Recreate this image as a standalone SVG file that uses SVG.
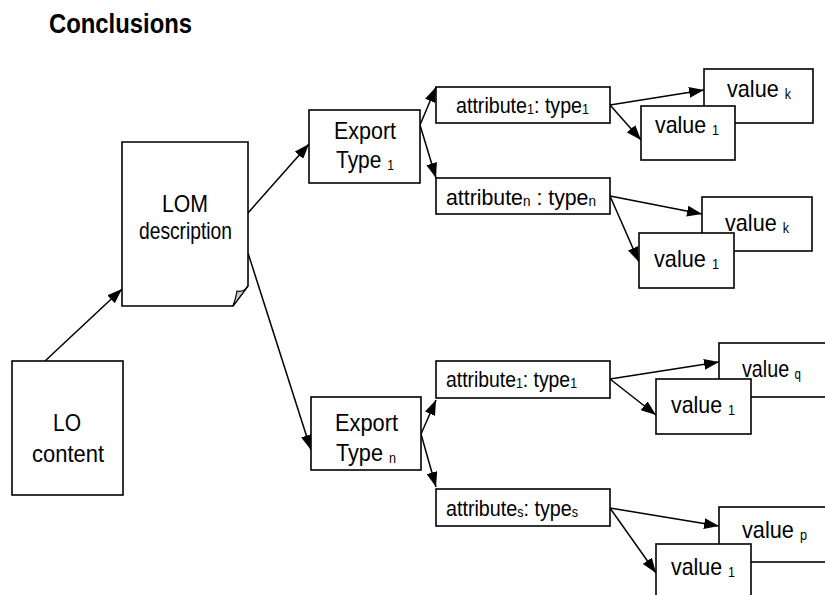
<svg xmlns="http://www.w3.org/2000/svg" width="825" height="595" viewBox="0 0 825 595">
  <style>
    .box { fill: #ffffff; stroke: #000000; stroke-width: 1.6; }
    .fold { fill: #cccccc; stroke: #000000; stroke-width: 1.2; }
    .edge { fill: none; stroke: #000000; stroke-width: 1.5; marker-end: url(#arrow); }
    text { font-family: "Liberation Sans", Arial, Helvetica, sans-serif; fill: #000000; }
    .title { font-size: 28px; font-weight: bold; }
    .big { font-size: 24px; }
    .attr { font-size: 22px; }
    .val { font-size: 24px; }
    .sub { font-size: 14px; }
  </style>
  <defs>
    <marker id="arrow" markerUnits="userSpaceOnUse" markerWidth="15" markerHeight="11" refX="15" refY="5.5" orient="auto">
      <path d="M0,0 L15,5.5 L0,11 Z" fill="#000000"/>
    </marker>
  </defs>

  <text class="title" x="49" y="33" textLength="143" lengthAdjust="spacingAndGlyphs">Conclusions</text>

  <!-- connectors -->
  <g id="connectors">
    <line class="edge" x1="45" y1="361" x2="122" y2="289"/>
    <line class="edge" x1="248" y1="213" x2="309" y2="144"/>
    <line class="edge" x1="248" y1="253" x2="311" y2="450"/>
    <line class="edge" x1="420" y1="125" x2="436" y2="87"/>
    <line class="edge" x1="420" y1="125" x2="436" y2="178"/>
    <line class="edge" x1="421" y1="434" x2="436" y2="400"/>
    <line class="edge" x1="421" y1="434" x2="436" y2="487"/>
    <line class="edge" x1="610" y1="105" x2="704" y2="90"/>
    <line class="edge" x1="610" y1="105" x2="641" y2="140"/>
    <line class="edge" x1="610" y1="196" x2="702" y2="214"/>
    <line class="edge" x1="610" y1="196" x2="639" y2="262"/>
    <line class="edge" x1="610" y1="379" x2="719" y2="362"/>
    <line class="edge" x1="610" y1="379" x2="656" y2="415"/>
    <line class="edge" x1="610" y1="508" x2="719" y2="526"/>
    <line class="edge" x1="610" y1="508" x2="656" y2="573"/>
  </g>

  <g id="lo-content">
    <rect class="box" x="12" y="361" width="111" height="134"/>
    <text class="big" x="53" y="431" textLength="28" lengthAdjust="spacingAndGlyphs">LO</text>
    <text class="big" x="32" y="462" textLength="72" lengthAdjust="spacingAndGlyphs">content</text>
  </g>

  <g id="lom-description">
    <path class="box" d="M122,142 H248 V286 L233,306 H122 Z"/>
    <path class="fold" d="M233,306 Q236,298 237,291 Q243,293 248,286 Z"/>
    <text class="big" x="162" y="212" textLength="46" lengthAdjust="spacingAndGlyphs">LOM</text>
    <text class="big" x="139" y="239" textLength="93" lengthAdjust="spacingAndGlyphs">description</text>
  </g>

  <g id="export-type-1">
    <rect class="box" x="309" y="110" width="111" height="73"/>
    <text class="big" x="334" y="139" textLength="62" lengthAdjust="spacingAndGlyphs">Export</text>
    <text class="big" x="336" y="168" textLength="58" lengthAdjust="spacingAndGlyphs">Type <tspan class="sub" dy="2">1</tspan></text>
  </g>

  <g id="export-type-n">
    <rect class="box" x="311" y="397" width="110" height="73"/>
    <text class="big" x="335" y="431" textLength="63" lengthAdjust="spacingAndGlyphs">Export</text>
    <text class="big" x="336" y="461" textLength="60" lengthAdjust="spacingAndGlyphs">Type <tspan class="sub" dy="2">n</tspan></text>
  </g>

  <g id="attr-1-top">
    <rect class="box" x="436" y="87" width="174" height="36"/>
    <text class="attr" x="456" y="113" textLength="133" lengthAdjust="spacingAndGlyphs">attribute<tspan class="sub" dy="1">1</tspan><tspan dy="-1">: type</tspan><tspan class="sub" dy="1">1</tspan></text>
  </g>

  <g id="attr-n-top">
    <rect class="box" x="436" y="178" width="174" height="36"/>
    <text class="attr" x="446" y="205" textLength="150" lengthAdjust="spacingAndGlyphs">attribute<tspan class="sub" dy="1">n</tspan><tspan dy="-1"> : type</tspan><tspan class="sub" dy="1">n</tspan></text>
  </g>

  <g id="attr-1-bottom">
    <rect class="box" x="436" y="361" width="174" height="37"/>
    <text class="attr" x="446" y="387" textLength="131" lengthAdjust="spacingAndGlyphs">attribute<tspan class="sub" dy="1">1</tspan><tspan dy="-1">: type</tspan><tspan class="sub" dy="1">1</tspan></text>
  </g>

  <g id="attr-s-bottom">
    <rect class="box" x="436" y="489" width="174" height="37"/>
    <text class="attr" x="446" y="516" textLength="132" lengthAdjust="spacingAndGlyphs">attribute<tspan class="sub" dy="1">s</tspan><tspan dy="-1">: type</tspan><tspan class="sub" dy="1">s</tspan></text>
  </g>

  <g id="value-k-a">
    <rect class="box" x="704" y="69" width="109" height="54"/>
    <text class="val" x="727" y="97" textLength="64" lengthAdjust="spacingAndGlyphs">value <tspan class="sub" dy="2">k</tspan></text>
  </g>
  <g id="value-1-a">
    <rect class="box" x="641" y="106" width="94" height="54"/>
    <text class="val" x="655" y="133" textLength="64" lengthAdjust="spacingAndGlyphs">value <tspan class="sub" dy="2">1</tspan></text>
  </g>

  <g id="value-k-b">
    <rect class="box" x="702" y="197" width="110" height="54"/>
    <text class="val" x="725" y="231" textLength="64" lengthAdjust="spacingAndGlyphs">value <tspan class="sub" dy="2">k</tspan></text>
  </g>
  <g id="value-1-b">
    <rect class="box" x="639" y="233" width="95" height="55"/>
    <text class="val" x="654" y="267" textLength="65" lengthAdjust="spacingAndGlyphs">value <tspan class="sub" dy="2">1</tspan></text>
  </g>

  <g id="value-q">
    <rect class="box" x="719" y="343" width="111" height="54"/>
    <text class="val" x="742" y="377" textLength="59" lengthAdjust="spacingAndGlyphs">value <tspan class="sub" dy="2">q</tspan></text>
  </g>
  <g id="value-1-c">
    <rect class="box" x="656" y="379" width="95" height="55"/>
    <text class="val" x="671" y="413" textLength="64" lengthAdjust="spacingAndGlyphs">value <tspan class="sub" dy="2">1</tspan></text>
  </g>

  <g id="value-p">
    <rect class="box" x="719" y="507" width="111" height="55"/>
    <text class="val" x="742" y="538" textLength="65" lengthAdjust="spacingAndGlyphs">value <tspan class="sub" dy="2">p</tspan></text>
  </g>
  <g id="value-1-d">
    <rect class="box" x="656" y="544" width="95" height="56"/>
    <text class="val" x="671" y="575" textLength="64" lengthAdjust="spacingAndGlyphs">value <tspan class="sub" dy="2">1</tspan></text>
  </g>
</svg>
